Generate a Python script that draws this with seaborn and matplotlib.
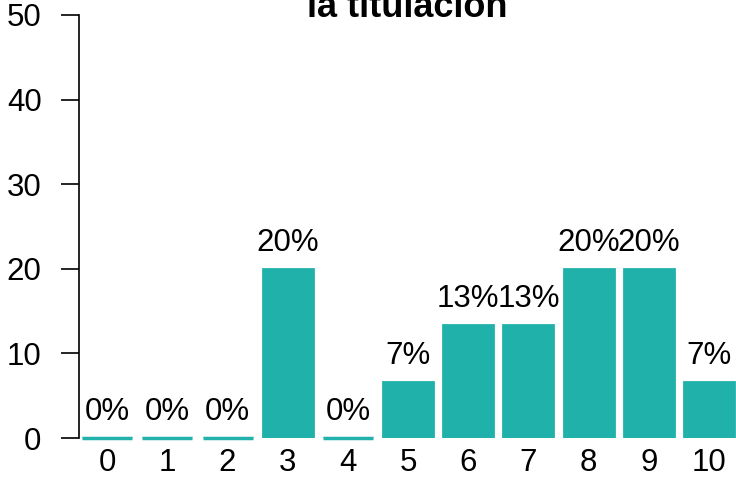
import matplotlib
matplotlib.use("Agg")
import matplotlib.pyplot as plt
import seaborn as sns
import pandas as pd

categories = ["0", "1", "2", "3", "4", "5", "6", "7", "8", "9", "10"]
counts = [0, 0, 0, 3, 0, 1, 2, 2, 3, 3, 1]
total = sum(counts)
percent = [100 * c / total for c in counts]
labels = [f"{round(p)}%" for p in percent]
title = "Valoración global de\nla titulación"

sns.set_theme(style="white")
plt.rcParams["font.family"] = ["Liberation Sans", "DejaVu Sans"]

df = pd.DataFrame({"cat": categories, "pct": percent})

fig = plt.figure(figsize=(7.36, 4.78), dpi=100)
x0 = 79
ax = fig.add_axes([x0 / 736, (478 - 438) / 478, (736 - x0) / 736, (438 - 15) / 478])
teal = "#20B2AA"
sns.barplot(data=df, x="cat", y="pct", color=teal, saturation=1, width=0.83,
            edgecolor=teal, linewidth=2.0, ax=ax)
for patch in list(ax.patches):
    if patch.get_height() == 0:
        ax.hlines(0, patch.get_x(), patch.get_x() + patch.get_width(),
                  color=teal, linewidth=2.5, clip_on=False, zorder=3)
for i, (p, lab) in enumerate(zip(percent, labels)):
    ax.text(i, p + 2.1, lab, ha="center", va="baseline", fontsize=22.5, color="black")

ax.set_ylim(0, 50)
ax.set_xlim(-0.47, 10.45)
ax.set_yticks([0, 10, 20, 30, 40, 50])
ax.tick_params(axis="y", length=13, width=1.2, labelsize=22.5, pad=14, colors="black", direction="out", left=True)
ax.tick_params(axis="x", length=0, labelsize=22.5, pad=7, colors="black")
for s in ["top", "right", "bottom"]:
    ax.spines[s].set_visible(False)
ax.spines["left"].set_color("black")
ax.spines["left"].set_linewidth(1.2)
ax.spines["left"].set_bounds(0, 50)
ax.set_xlabel("")
ax.set_ylabel("")
ax.grid(False)

fig.text((x0 + 736) / 2 / 736, 1 - 17 / 478, title, ha="center", va="baseline",
         fontsize=26, fontweight="bold", color="black", linespacing=1.2)

fig.savefig("out.png", dpi=100)
